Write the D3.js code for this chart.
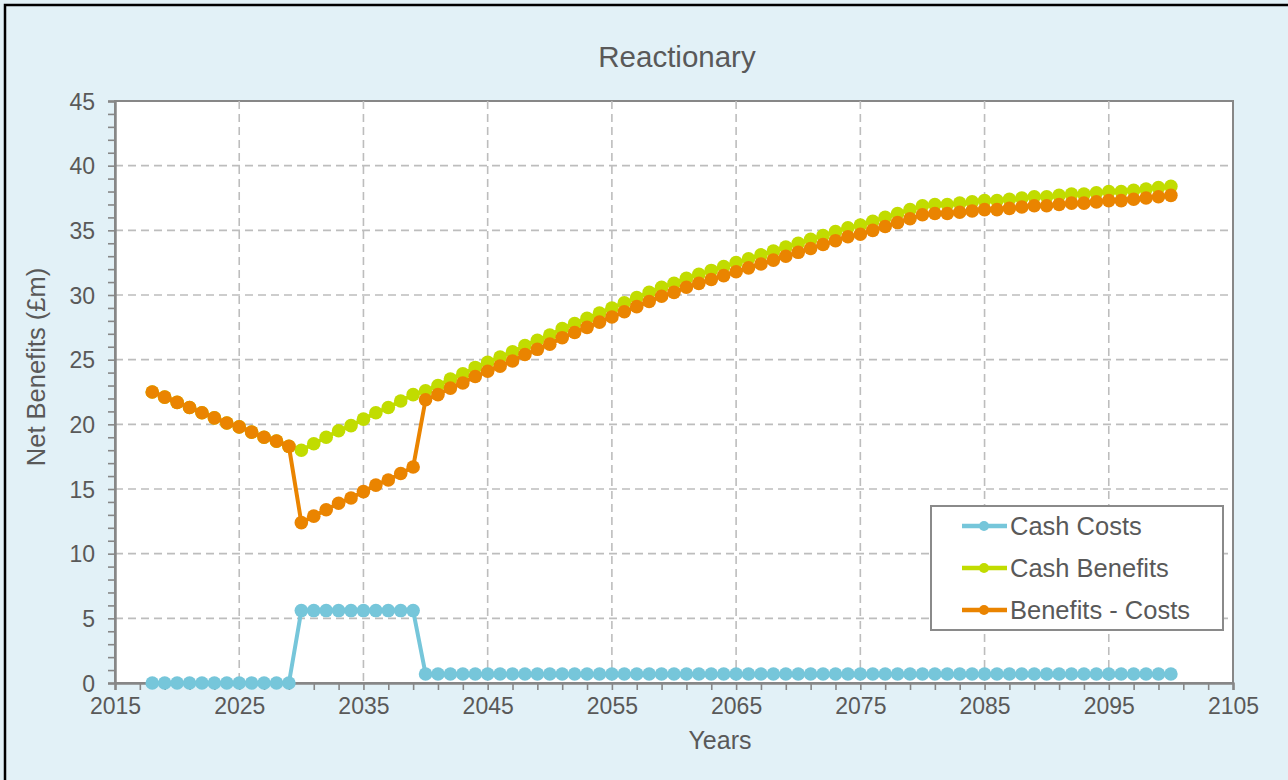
<!DOCTYPE html>
<html>
<head>
<meta charset="utf-8">
<script src="https://cdn.jsdelivr.net/npm/d3@7"></script>
<style>
html,body{margin:0;padding:0;background:#e2f1f7;}
svg{display:block;font-family:"Liberation Sans",Arial,sans-serif;}
</style>
</head>
<body>
<svg id="chart" width="1288" height="780"></svg>
<script>
const title = "Reactionary";
const xTitle = "Years";
const yTitle = "Net Benefits (£m)";
const years = d3.range(2018, 2101);
const seriesNames = ["Cash Costs", "Cash Benefits", "Benefits - Costs"];
const seriesColors = ["#76c6da", "#c1dc00", "#ea8400"];

const cashCosts = [
  0,0,0,0,0,0,0,0,0,0,0,0,
  5.6,5.6,5.6,5.6,5.6,5.6,5.6,5.6,5.6,5.6,
  0.7,0.7,0.7,0.7,0.7,0.7,0.7,0.7,0.7,0.7,
  0.7,0.7,0.7,0.7,0.7,0.7,0.7,0.7,0.7,0.7,
  0.7,0.7,0.7,0.7,0.7,0.7,0.7,0.7,0.7,0.7,
  0.7,0.7,0.7,0.7,0.7,0.7,0.7,0.7,0.7,0.7,
  0.7,0.7,0.7,0.7,0.7,0.7,0.7,0.7,0.7,0.7,
  0.7,0.7,0.7,0.7,0.7,0.7,0.7,0.7,0.7,0.7,0.7
];
const cashBenefits = [
  22.5,22.1,21.7,21.3,20.9,20.5,20.1,19.8,19.4,19.0,18.7,18.3,
  18.0,18.5,19.0,19.5,19.9,20.4,20.9,21.3,21.8,22.3,
  22.6,23.0,23.5,23.9,24.4,24.8,25.2,25.6,26.1,26.5,
  26.9,27.4,27.8,28.2,28.6,29.0,29.4,29.8,30.2,30.6,
  30.9,31.3,31.6,31.9,32.2,32.5,32.8,33.1,33.4,33.7,
  34.0,34.3,34.6,34.9,35.2,35.4,35.7,36.0,36.3,36.6,
  36.9,37.0,37.0,37.1,37.2,37.3,37.3,37.4,37.5,37.6,
  37.6,37.7,37.8,37.8,37.9,38.0,38.0,38.1,38.2,38.3,38.4
];
const netBenefits = [
  22.5,22.1,21.7,21.3,20.9,20.5,20.1,19.8,19.4,19.0,18.7,18.3,
  12.4,12.9,13.4,13.9,14.3,14.8,15.3,15.7,16.2,16.7,
  21.9,22.3,22.8,23.2,23.7,24.1,24.5,24.9,25.4,25.8,
  26.2,26.7,27.1,27.5,27.9,28.3,28.7,29.1,29.5,29.9,
  30.2,30.6,30.9,31.2,31.5,31.8,32.1,32.4,32.7,33.0,
  33.3,33.6,33.9,34.2,34.5,34.7,35.0,35.3,35.6,35.9,
  36.2,36.3,36.3,36.4,36.5,36.6,36.6,36.7,36.8,36.9,
  36.9,37.0,37.1,37.1,37.2,37.3,37.3,37.4,37.5,37.6,37.7
];
const xTicks = [2015,2025,2035,2045,2055,2065,2075,2085,2095,2105];
const yTicks = [0,5,10,15,20,25,30,35,40,45];

const svg = d3.select("#chart");
const textColor = "#595959";
const axisColor = "#878787";
const FONT = "'Liberation Sans', Arial, sans-serif";
const L = 115, R = 1233, T = 101, B = 683;

// outer frame
svg.append("rect").attr("x",5).attr("y",5).attr("width",1300).attr("height",800)
  .attr("fill","#e2f1f7").attr("stroke","#000").attr("stroke-width",2.5);

const x = d3.scaleLinear().domain([2015,2105]).range([L,R]);
const y = d3.scaleLinear().domain([0,45]).range([B,T]);

svg.append("rect").attr("x",L).attr("y",T).attr("width",R-L).attr("height",B-T)
  .attr("fill","#fff").attr("stroke",axisColor).attr("stroke-width",2);

// gridlines
const grid = svg.append("g").attr("stroke","#bdbdbd").attr("stroke-width",1.6).attr("stroke-dasharray","8,5");
grid.selectAll("line.gx").data(xTicks.filter(d=>d>2015&&d<2105)).join("line")
  .attr("x1",d=>x(d)).attr("x2",d=>x(d)).attr("y1",T).attr("y2",B);
grid.selectAll("line.gy").data(yTicks.filter(d=>d>0&&d<45)).join("line")
  .attr("y1",d=>y(d)).attr("y2",d=>y(d)).attr("x1",L).attr("x2",R);

// axes
const gx = svg.append("g").attr("transform",`translate(0,${B})`)
  .call(d3.axisBottom(x).tickValues(xTicks).tickFormat(d3.format("d")).tickSize(7).tickPadding(6));
const gy = svg.append("g").attr("transform",`translate(${L},0)`)
  .call(d3.axisLeft(y).tickValues(yTicks).tickSize(7).tickPadding(13));
const gxm = svg.append("g").attr("transform",`translate(0,${B})`)
  .call(d3.axisBottom(x).tickValues(d3.range(0,46).map(i=>2015+i*2).filter(v=>v<=2105 && (v-2015)%10!==0)).tickSize(7).tickFormat(""));
const gym = svg.append("g").attr("transform",`translate(${L},0)`)
  .call(d3.axisLeft(y).tickValues(d3.range(0,46).filter(v=>v%5!==0)).tickSize(7).tickFormat(""));
[gx,gy,gxm,gym].forEach(g=>{
  g.attr("font-family",FONT).attr("font-size",23);
  g.selectAll(".domain").attr("stroke",axisColor).attr("stroke-width",2);
  g.selectAll(".tick line").attr("stroke",axisColor).attr("stroke-width",1.6);
  g.selectAll("text").attr("fill",textColor);
});
gx.selectAll("text").attr("dy","0.8em");
gy.selectAll("text").attr("dy","0.36em");

// series
const datasets = [cashCosts, cashBenefits, netBenefits];
const line = d3.line().x(d=>x(d[0])).y(d=>y(d[1]));
datasets.forEach((vals,si)=>{
  const pts = years.map((yr,i)=>[yr,vals[i]]);
  const g = svg.append("g");
  g.append("path").datum(pts).attr("d",line).attr("fill","none")
    .attr("stroke",seriesColors[si]).attr("stroke-width",4).attr("stroke-linejoin","round");
  g.selectAll("circle").data(pts).join("circle")
    .attr("cx",d=>x(d[0])).attr("cy",d=>y(d[1])).attr("r",6.8).attr("fill",seriesColors[si]);
});

// title and axis titles
svg.append("text").attr("x",677).attr("y",67).attr("text-anchor","middle")
  .attr("fill",textColor).attr("font-family",FONT).attr("font-size",29.5).text(title);
svg.append("text").attr("x",720).attr("y",749).attr("text-anchor","middle")
  .attr("fill",textColor).attr("font-family",FONT).attr("font-size",25).text(xTitle);
svg.append("text").attr("transform","translate(45,367) rotate(-90)").attr("text-anchor","middle")
  .attr("fill",textColor).attr("font-family",FONT).attr("font-size",25.5).text(yTitle);

// legend
const lg = svg.append("g");
lg.append("rect").attr("x",931).attr("y",506).attr("width",292).attr("height",124)
  .attr("fill","#fff").attr("stroke","#8a8a8a").attr("stroke-width",2);
const rowsY = [526,568,610];
seriesNames.forEach((n,i)=>{
  lg.append("line").attr("x1",962).attr("x2",1007).attr("y1",rowsY[i]).attr("y2",rowsY[i])
    .attr("stroke",seriesColors[i]).attr("stroke-width",4.5);
  lg.append("circle").attr("cx",984).attr("cy",rowsY[i]).attr("r",5).attr("fill",seriesColors[i]);
  lg.append("text").attr("x",1010).attr("y",rowsY[i]).attr("dy","0.36em")
    .attr("fill",textColor).attr("font-family",FONT).attr("font-size",25.5).text(n);
});
</script>
</body>
</html>
